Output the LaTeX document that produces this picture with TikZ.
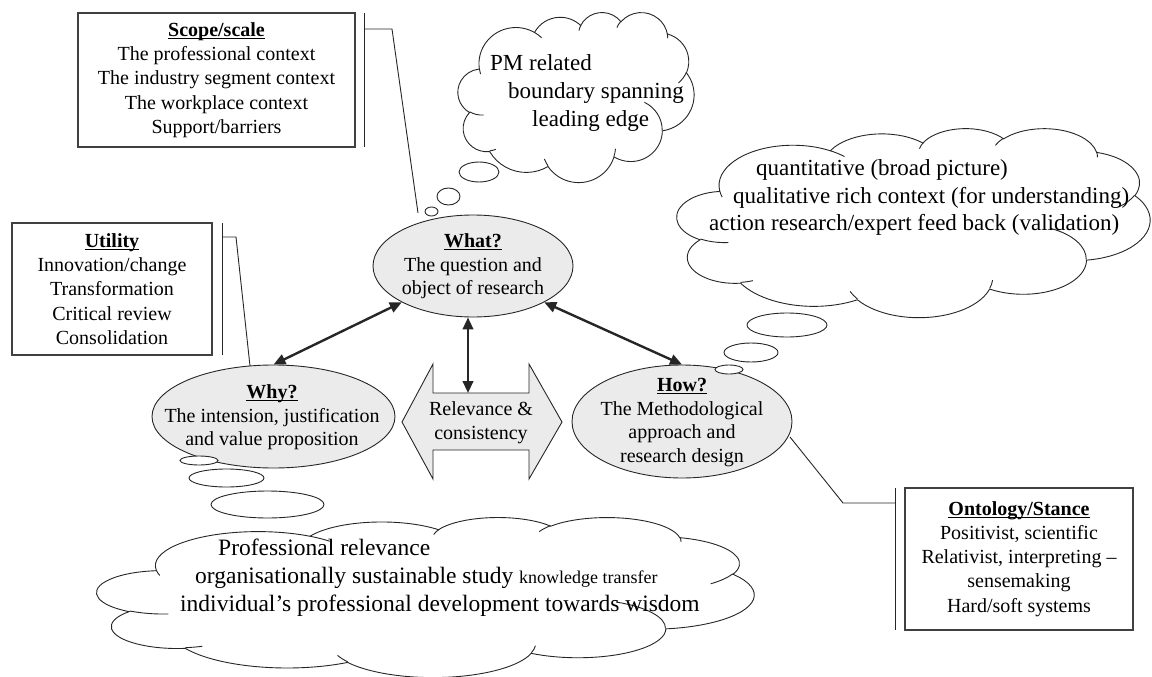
\documentclass[tikz,border=0pt]{standalone}
\usepackage{fontspec}
\setmainfont{Liberation Serif}
\usetikzlibrary{shapes.geometric,arrows.meta}

\newcommand\hdr[1]{\setbox0=\hbox{\textbf{#1}}\rlap{\rule[-2.4pt]{\wd0}{1.1pt}}\box0}
\newcommand\boxfont{\fontsize{20}{24.2}\selectfont}
\newcommand\ovalfont{\fontsize{20}{23.6}\selectfont}
\newcommand\cloudfont{\fontsize{23}{27}\selectfont}
\newcommand\bigcloudfont{\fontsize{23.5}{28}\selectfont}

% one arc of the cloud outline: x radius, y radius, start angle, sweep (visual angles)
\newcommand\carc[4]{arc[start angle={pa(#3,#1,#2)}, delta angle={mod(pa(#3+#4,#1,#2)-pa(#3,#1,#2)+720,360)}, x radius=#1pt, y radius=#2pt]}

% cloud outline in a 432 x 432 frame, placed at (x0,y0) with width W and height H
\newcommand\drawcloud[4]{%
\begin{scope}[shift={(#1,#2)},xscale={#3/432},yscale={#4/432}]
\draw[cloudline,fill=white] (39.00,143.70)
 \carc{67.53}{91.90}{-190.4875}{123.7805}
 \carc{53.33}{72.67}{-144.1024}{89.9452}
 \carc{43.65}{59.45}{-145.8079}{99.7230}
 \carc{48.57}{65.95}{-130.9861}{117.2417}
 \carc{53.33}{72.73}{-78.7089}{109.0269}
 \carc{67.75}{92.20}{-46.2673}{130.2690}
 \carc{57.85}{78.67}{0.6250}{114.0333}
 \carc{67.52}{92.15}{22.4516}{115.1726}
 \carc{77.20}{105.43}{66.2426}{75.7110}
 \carc{43.60}{59.18}{-274.9421}{146.7356}
 \carc{43.45}{59.45}{-246.8285}{152.5189}
 -- cycle;
\draw[cloudline]
 (46.93,261.77) \carc{43.45}{59.45}{86.7420}{26.4295}
 (69.28,348.99) \carc{43.60}{59.18}{73.6105}{11.4475}
 (164.78,390.90) \carc{67.52}{92.15}{137.6242}{14.0811}
 (288.27,347.51) \carc{67.52}{92.15}{6.4533}{15.9984}
 (341.29,229.54) \carc{57.85}{78.67}{-70.2924}{70.9174}
 (417.98,153.54) \carc{53.33}{72.73}{30.3180}{27.7515}
 (383.24,54.26) \carc{48.57}{65.95}{-13.7443}{14.8512}
 (290.78,39.52) \carc{48.57}{65.95}{-149.1815}{18.1843}
 (221.41,47.20) \carc{43.65}{59.45}{-163.4943}{17.6928}
 (140.00,51.92) \carc{67.53}{91.90}{-66.7070}{12.3194}
 (41.27,157.89) \carc{67.53}{91.90}{157.6544}{11.8539};
\end{scope}}

\tikzset{
 calline/.style={draw=black!85, line width=0.9pt},
 bracket/.style={draw=black!85, line width=0.9pt},
 infobox/.style={rectangle, draw=black!75, line width=1.1pt, inner sep=0pt, align=center, font=\boxfont},
 oval/.style={ellipse, draw=black!85, line width=0.9pt, fill=black!8, inner sep=0pt},
 ovaltext/.style={align=center, font=\ovalfont, inner sep=0pt},
 link/.style={draw=black!85, line width=2.4pt, {Triangle[length=12pt,width=10.5pt]}-{Triangle[length=12pt,width=10.5pt]}},
 bubble/.style={draw=black!85, line width=0.9pt, fill=white},
 cloudline/.style={draw=black!85, line width=0.9pt},
 cloudtext/.style={anchor=base west, inner sep=0pt, font=\cloudfont},
 bigcloudtext/.style={anchor=base west, inner sep=0pt, font=\bigcloudfont},
}

\begin{document}
\begin{tikzpicture}[x=1pt,y=1pt,yscale=-1,
  declare function={pa(\ang,\rw,\rh)=atan2(\rw*sin(\ang),\rh*cos(\ang));}]
\useasboundingbox (0,0) rectangle (1152,677);

% ---------- boxes with accent-bar callouts ----------
\node[infobox, minimum width=277pt, minimum height=134pt] (scope) at (216.5,80)
 {\hdr{Scope/scale}\\The professional context\\The industry segment context\\The workplace context\\Support/barriers};
\node[infobox, minimum width=200pt, minimum height=132pt] (utility) at (112,289)
 {\hdr{Utility}\\Innovation/change\\Transformation\\Critical review\\Consolidation};
\node[infobox, minimum width=228pt, minimum height=142pt] (onto) at (1019,559)
 {\hdr{Ontology/Stance}\\Positivist, scientific\\Relativist, interpreting --\\sensemaking\\Hard/soft systems};

% ---------- central ellipses ----------
\node[oval, minimum width=200pt, minimum height=102pt] (what) at (473,266) {};
\node[ovaltext] (whatT) at (473,266.5) {\hdr{What?}\\The question and\\object of research};
\node[oval, minimum width=243pt, minimum height=103pt] (why) at (273.5,416.5) {};
\node[ovaltext] (whyT) at (272,417.5) {\hdr{Why?}\\The intension, justification\\and value proposition};
\node[oval, minimum width=220pt, minimum height=113pt] (how) at (682,421.5) {};
\node[ovaltext] (howT) at (682,422.5) {\hdr{How?}\\The Methodological\\approach and\\research design};

% ---------- relevance double arrow ----------
\filldraw[calline, fill=black!8] (402,422) -- (433,364) -- (433,393) -- (529,393) -- (529,364)
 -- (562,422) -- (529,479) -- (529,450) -- (433,450) -- (433,479) -- cycle;
\coordinate (relTop) at (468,393);
\node[ovaltext] (rel) at (481,423) {Relevance \&\\consistency};

% ---------- connectors ----------
\draw[link] (what.207) -- (why.north);
\draw[link] (what.333) -- (how.north);
\draw[link] (what.south -| relTop) -- (relTop);

% ---------- callout leaders ----------
\coordinate (scopeTip) at (418,213);
\draw[bracket] (364,13) -- (364,147);
\draw[bracket] (364,29) -- (392,29) -- (scopeTip);
\coordinate (utilTip) at (250,366);
\draw[bracket] (222,223) -- (222,355);
\draw[bracket] (222,237) -- (236,237) -- (utilTip);
\coordinate (ontoTip) at (790,437);
\draw[bracket] (895,488) -- (895,630);
\draw[bracket] (895,503) -- (843,503) -- (ontoTip);

% ---------- thought bubbles ----------
\draw[bubble] (479,172) ellipse [x radius=20pt, y radius=10pt];
\draw[bubble] (448.5,196.5) ellipse [x radius=11.5pt, y radius=8.5pt];
\draw[bubble] (431.5,211.5) ellipse [x radius=6.5pt, y radius=4.5pt];
\draw[bubble] (787,325) ellipse [x radius=40pt, y radius=12pt];
\draw[bubble] (751,352.5) ellipse [x radius=27pt, y radius=9.5pt];
\draw[bubble] (729,369.5) ellipse [x radius=14pt, y radius=4.5pt];
\draw[bubble] (199,460.5) ellipse [x radius=19pt, y radius=4.5pt];
\draw[bubble] (226.5,478) ellipse [x radius=37.5pt, y radius=9pt];
\draw[bubble] (267.5,504.5) ellipse [x radius=56.5pt, y radius=13.5pt];

% ---------- clouds ----------
\drawcloud{458}{12}{236}{170}
\node[cloudtext] (pm1) at (490,70.5) {PM related};
\node[cloudtext] (pm2) at (508,98.5) {boundary spanning};
\node[cloudtext] (pm3) at (532,126.5) {leading edge};

\drawcloud{677}{128}{473}{189}
\node[cloudtext] (q1) at (756,175) {quantitative (broad picture)};
\node[cloudtext] (q2) at (733,203) {qualitative rich context (for understanding)};
\node[cloudtext] (q3) at (709,230) {action research/expert feed back (validation)};

\drawcloud{97}{517}{657}{160}
\node[bigcloudtext] (p1) at (218,555) {Professional relevance};
\node[bigcloudtext] (p2) at (195,583) {organisationally sustainable study {\fontsize{18}{20}\selectfont knowledge transfer}};
\node[bigcloudtext] (p3) at (180,611) {individual’s professional development towards wisdom};
\end{tikzpicture}
\end{document}
